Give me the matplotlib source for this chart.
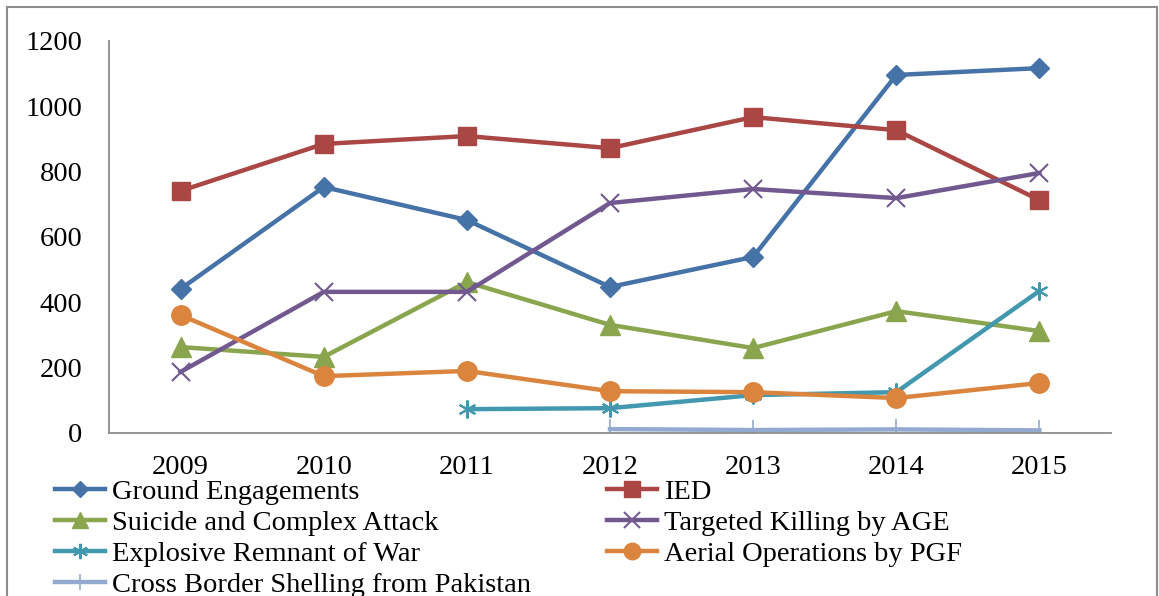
import matplotlib
matplotlib.use("Agg")
import matplotlib.pyplot as plt
from matplotlib.patches import Rectangle

years = ["2009", "2010", "2011", "2012", "2013", "2014", "2015"]
ground = [441, 753, 652, 447, 539, 1096, 1117]
ied = [741, 885, 909, 872, 967, 927, 713]
suicide = [263, 233, 462, 331, 260, 373, 312]
targeted = [187, 432, 432, 704, 747, 719, 796]
erw = [None, None, 73, 76, 116, 125, 435]
aerial = [361, 174, 190, 128, 125, 107, 153]
shelling = [None, None, None, 12, 9, 11, 8]

plt.rcParams['font.family'] = ['Liberation Serif', 'DejaVu Serif']

fig = plt.figure(figsize=(11.59, 5.96), dpi=100)
ax = fig.add_axes([109/1159, 1 - 433/596, 1002/1159, 392/596])

x = list(range(len(years)))
lw = 3.2

def pts(vals):
    xs = [i for i, v in zip(x, vals) if v is not None]
    ys = [v for v in vals if v is not None]
    return xs, ys

series = [
    ("Ground Engagements", ground, "#4572A7", "D", 10, {}),
    ("IED", ied, "#AA4643", "s", 13, {}),
    ("Suicide and Complex Attack", suicide, "#89A54E", "^", 14, {}),
    ("Targeted Killing by AGE", targeted, "#71588F", "x", 13, {"markeredgewidth": 1.5}),
    ("Explosive Remnant of War", erw, "#4198AF", (6, 2, 0), 13, {"markeredgewidth": 1.5}),
    ("Aerial Operations by PGF", aerial, "#DB843D", "o", 14, {}),
    ("Cross Border Shelling from Pakistan", shelling, "#93A9CF", "|", 14, {"markeredgewidth": 1.2}),
]

handles = {}
for name, vals, col, mk, ms, kw in series:
    xs, ys = pts(vals)
    h, = ax.plot(xs, ys, color=col, lw=lw, marker=mk, markersize=ms,
                 markerfacecolor=col, markeredgecolor=col, label=name,
                 solid_joinstyle='round', **kw)
    handles[name] = h

ax.set_xlim(-0.5, 6.5)
ax.set_ylim(0, 1200)
ax.set_yticks([0, 200, 400, 600, 800, 1000, 1200])
ax.set_xticks(x)
ax.set_xticklabels(years)
ax.tick_params(axis='both', length=0, labelsize=20.5)
ax.tick_params(axis='y', pad=19)
ax.tick_params(axis='x', pad=16)
for s in ['top', 'right']:
    ax.spines[s].set_visible(False)
for s in ['left', 'bottom']:
    ax.spines[s].set_color('#8c8c8c')
    ax.spines[s].set_linewidth(1.3)

left_names = ["Ground Engagements", "Suicide and Complex Attack",
              "Explosive Remnant of War", "Cross Border Shelling from Pakistan"]
right_names = ["IED", "Targeted Killing by AGE", "Aerial Operations by PGF"]
for names, xa in [(left_names, 55/1159), (right_names, 607/1159)]:
    fig.legend([handles[n] for n in names], names, loc='upper left',
               bbox_to_anchor=(xa, 1 - 479/596), frameon=False, fontsize=20.5,
               borderpad=0, borderaxespad=0, labelspacing=0.18,
               handlelength=1.75, handletextpad=0.25, markerscale=0.85)

fig.patches.append(Rectangle((7/1159, -0.1), 1150/1159, 1.1 - 7/596,
                             transform=fig.transFigure, fill=False,
                             edgecolor='#8c8c8c', lw=1.5))

fig.savefig("out.png", dpi=100)
